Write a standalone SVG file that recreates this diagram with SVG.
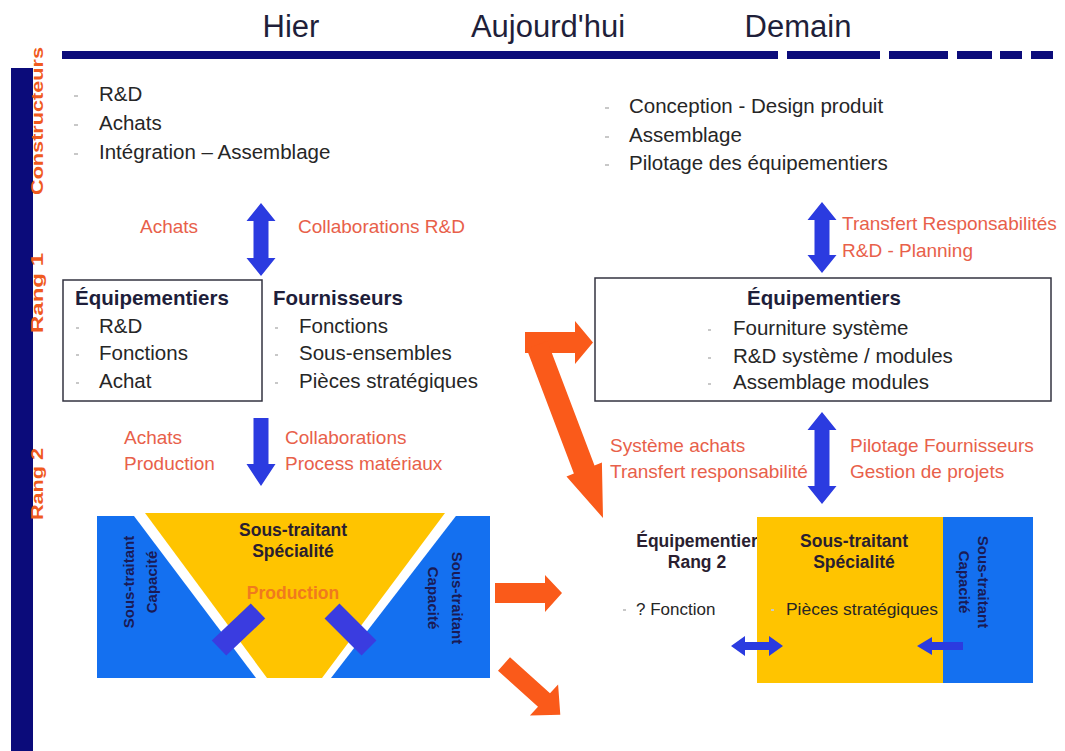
<svg xmlns="http://www.w3.org/2000/svg" width="1065" height="751" viewBox="0 0 1065 751">
<defs>
<style>
text{font-family:"Liberation Sans",Arial,sans-serif}
.hdr{font-size:31px;fill:#1f1f3a;text-anchor:middle}
.side{font-size:16px;font-weight:bold;fill:#f05a1e;text-anchor:middle}
.lst{font-size:20.5px;fill:#262626}
.bld{font-size:20.5px;font-weight:bold;fill:#1e1e3a}
.red{font-size:19px;fill:#e8604a}
.sm{font-size:17px;fill:#262626}
.smb{font-size:17.5px;font-weight:bold;fill:#2a1e30;text-anchor:middle}
.vt{font-size:15px;font-weight:bold;fill:#1a1a55;text-anchor:middle}
.bul{fill:#c8c8c8}
.blue{fill:#2b3be0}
.orange{fill:#fa5a1a}
.navy{fill:#0b0b7a}
</style>
</defs>

<g id="header">
<text class="hdr" x="291" y="37">Hier</text>
<text class="hdr" x="548" y="37">Aujourd'hui</text>
<text class="hdr" x="798" y="37">Demain</text>
<rect class="navy" x="62" y="51" width="716" height="8"/>
<rect class="navy" x="787" y="51" width="93" height="8"/>
<rect class="navy" x="889" y="51" width="59" height="8"/>
<rect class="navy" x="957" y="51" width="35" height="8"/>
<rect class="navy" x="1000" y="51" width="22" height="8"/>
<rect class="navy" x="1031" y="51" width="22" height="8"/>
</g>

<g id="sidebar">
<rect class="navy" x="11" y="68" width="22" height="683"/>
<text class="side" transform="translate(43,121) rotate(-90)" textLength="148" lengthAdjust="spacingAndGlyphs">Constructeurs</text>
<text class="side" transform="translate(43,293) rotate(-90)" textLength="80" lengthAdjust="spacingAndGlyphs">Rang 1</text>
<text class="side" transform="translate(43,484) rotate(-90)" textLength="72" lengthAdjust="spacingAndGlyphs">Rang 2</text>
</g>

<g id="constructeurs-hier">
<rect class="bul" x="74" y="95" width="4" height="2"/>
<rect class="bul" x="74" y="124" width="4" height="2"/>
<rect class="bul" x="74" y="153" width="4" height="2"/>
<text class="lst" x="99" y="101">R&amp;D</text>
<text class="lst" x="99" y="130">Achats</text>
<text class="lst" x="99" y="159">Intégration – Assemblage</text>
</g>

<g id="constructeurs-demain">
<rect class="bul" x="605" y="107" width="4" height="2"/>
<rect class="bul" x="605" y="136" width="4" height="2"/>
<rect class="bul" x="605" y="164" width="4" height="2"/>
<text class="lst" x="629" y="113">Conception - Design produit</text>
<text class="lst" x="629" y="142">Assemblage</text>
<text class="lst" x="629" y="170">Pilotage des équipementiers</text>
</g>

<g id="rang1-hier">
<rect x="63" y="280" width="199" height="121" fill="none" stroke="#333340" stroke-width="1.5"/>
<text class="bld" x="75" y="305">Équipementiers</text>
<rect class="bul" x="76" y="327" width="3" height="2"/>
<rect class="bul" x="76" y="354" width="3" height="2"/>
<rect class="bul" x="76" y="382" width="3" height="2"/>
<text class="lst" x="99" y="333">R&amp;D</text>
<text class="lst" x="99" y="360">Fonctions</text>
<text class="lst" x="99" y="388">Achat</text>
</g>

<g id="fournisseurs">
<text class="bld" x="273" y="305">Fournisseurs</text>
<rect class="bul" x="275" y="327" width="3" height="2"/>
<rect class="bul" x="275" y="354" width="3" height="2"/>
<rect class="bul" x="275" y="382" width="3" height="2"/>
<text class="lst" x="299" y="333">Fonctions</text>
<text class="lst" x="299" y="360">Sous-ensembles</text>
<text class="lst" x="299" y="388">Pièces stratégiques</text>
</g>

<g id="rang1-demain">
<rect x="595" y="278" width="456" height="123" fill="none" stroke="#333340" stroke-width="1.5"/>
<text class="bld" x="824" y="305" text-anchor="middle">Équipementiers</text>
<rect class="bul" x="708" y="329" width="3" height="2"/>
<rect class="bul" x="708" y="357" width="3" height="2"/>
<rect class="bul" x="708" y="383" width="3" height="2"/>
<text class="lst" x="733" y="335">Fourniture système</text>
<text class="lst" x="733" y="363">R&amp;D système / modules</text>
<text class="lst" x="733" y="389">Assemblage modules</text>
</g>

<g id="rang2-hier">
<rect x="97" y="516" width="393" height="162" fill="#1470f0"/>
<polygon points="131,512 459,512 331,678 256,678" fill="#ffffff"/>
<polygon points="145,513 445,513 322,678 267,678" fill="#ffc400"/>
<line x1="258" y1="611" x2="219" y2="648" stroke="#3a3ce0" stroke-width="21"/>
<line x1="332" y1="611" x2="369" y2="648" stroke="#3a3ce0" stroke-width="21"/>
<text class="smb" x="293" y="536" font-size="18.5">Sous-traitant</text>
<text class="smb" x="293" y="557" font-size="18.5">Spécialité</text>
<text x="293" y="599" font-size="17.5" font-weight="bold" fill="#f07a1e" text-anchor="middle">Production</text>
<text class="vt" transform="translate(134,582) rotate(-90)">Sous-traitant</text>
<text class="vt" transform="translate(157,582) rotate(-90)">Capacité</text>
<text class="vt" transform="translate(451.5,598) rotate(90)">Sous-traitant</text>
<text class="vt" transform="translate(428,598) rotate(90)">Capacité</text>
</g>

<g id="rang2-demain">
<text class="smb" x="697" y="547">Équipementier</text>
<text class="smb" x="697" y="568">Rang 2</text>
<rect class="bul" x="623" y="609" width="3" height="2"/>
<text class="sm" x="636" y="615">? Fonction</text>
<rect x="757" y="517" width="186" height="166" fill="#ffc400"/>
<rect x="943" y="517" width="90" height="166" fill="#1470f0"/>
<text class="smb" x="854" y="547">Sous-traitant</text>
<text class="smb" x="854" y="568">Spécialité</text>
<rect class="bul" x="771" y="609" width="3" height="2"/>
<text class="sm" x="786" y="615" textLength="152" lengthAdjust="spacingAndGlyphs">Pièces stratégiques</text>
<text class="vt" transform="translate(978,582) rotate(90)">Sous-traitant</text>
<text class="vt" transform="translate(959,582) rotate(90)">Capacité</text>
</g>

<g id="connectors">
<polygon class="blue" points="261,203 275.5,221 268.5,221 268.5,258 275.5,258 261,276 246.5,258 253.5,258 253.5,221 246.5,221"/>
<polygon class="blue" points="253.5,418 268.5,418 268.5,464 275.5,464 261,486 246.5,464 253.5,464"/>
<polygon class="blue" points="822,202 836.5,220 829.5,220 829.5,255 836.5,255 822,273 807.5,255 814.5,255 814.5,220 807.5,220"/>
<polygon class="blue" points="822,412 836.5,430 829.5,430 829.5,486 836.5,486 822,504 807.5,486 814.5,486 814.5,430 807.5,430"/>
<polygon class="blue" points="731,646 745,636 745,642 769,642 769,636 783,646 769,656 769,650 745,650 745,656"/>
<polygon class="blue" points="917,646 932,637 932,642 963,642 963,650 932,650 932,655"/>
<polygon class="orange" points="525,332 575,332 575,321 593,342.5 575,364 575,353 525,353"/>
<polygon class="orange" points="526.7,349 547.3,341 594.5,465.5 601.9,462.6 603,518 566.5,476.4 573.9,473.5"/>
<polygon class="orange" points="495,583 545,583 545,575 562,593 545,612 545,603 495,603"/>
<polygon class="orange" points="498,670.7 510,657.3 550,693.3 558.1,684.5 560.3,714.7 529.9,715.5 538,706.7"/>
<text class="red" x="140" y="233">Achats</text>
<text class="red" x="298" y="233">Collaborations R&amp;D</text>
<text class="red" x="124" y="444">Achats</text>
<text class="red" x="124" y="470">Production</text>
<text class="red" x="285" y="444">Collaborations</text>
<text class="red" x="285" y="470">Process matériaux</text>
<text class="red" x="842" y="230">Transfert Responsabilités</text>
<text class="red" x="842" y="257">R&amp;D - Planning</text>
<text class="red" x="610" y="452">Système achats</text>
<text class="red" x="610" y="478">Transfert responsabilité</text>
<text class="red" x="850" y="452">Pilotage Fournisseurs</text>
<text class="red" x="850" y="478">Gestion de projets</text>
</g>
</svg>
